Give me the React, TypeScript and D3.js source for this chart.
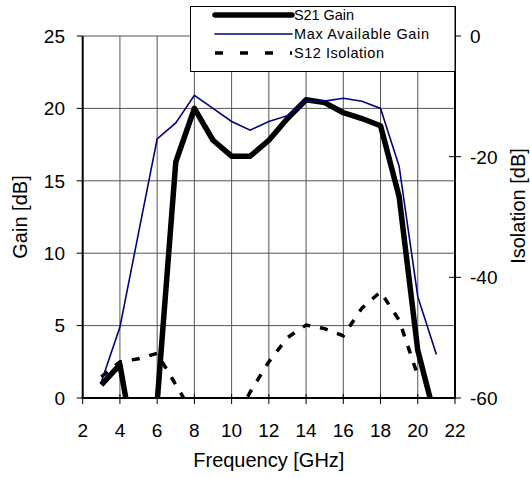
import React, { useRef, useEffect } from 'react';
import * as d3 from 'd3';

// Frequency points [GHz]
const freqs = [3, 4, 5, 6, 7, 8, 9, 10, 11, 12, 13, 14, 15, 16, 17, 18, 19, 20, 21];
// S21 gain [dB]
const s21Gain = [0.9, 2.3, -5, -0.3, 16.3, 20.0, 17.8, 16.7, 16.7, 17.8, 19.3, 20.6, 20.4, 19.7, 19.3, 18.8, 13.9, 3.3, -1.7];
// Max available gain [dB]
const maxGain = [1.1, 4.9, 11.4, 17.9, 19.0, 20.9, 20.0, 19.1, 18.5, 19.1, 19.5, 20.5, 20.5, 20.7, 20.5, 20.0, 16.0, 7.0, 3.0];
// S12 isolation [dB], 3..20 GHz
const isoFreqs = [3, 4, 5, 6, 7, 8, 9, 10, 11, 12, 13, 14, 15, 16, 17, 18, 19, 20];
const s12Iso = [-56.5, -54.0, -53.5, -52.6, -57.8, -63, -66, -65, -59, -54, -50, -47.9, -48.5, -49.7, -45.1, -42.4, -47.1, -56.3];

const xTicks = [2, 4, 6, 8, 10, 12, 14, 16, 18, 20, 22];
const yTicks = [0, 5, 10, 15, 20, 25];
const y2Ticks = [0, -20, -40, -60];

const width = 530;
const height = 478;

const App = () => {
  const svgRef = useRef<SVGSVGElement>(null);

  useEffect(() => {
    const svg = d3.select(svgRef.current);
    svg.selectAll('*').remove();

    const left = 82.7, right = 455, top = 36, bottom = 398;
    const font = 'Liberation Sans, Arial, sans-serif';

    const x = d3.scaleLinear().domain([2, 22]).range([left, right]);
    const y = d3.scaleLinear().domain([0, 25]).range([bottom, top]);
    const y2 = d3.scaleLinear().domain([-60, 0]).range([bottom, top]);

    svg.append('defs').append('clipPath').attr('id', 'plot-clip')
      .append('rect')
      .attr('x', left).attr('y', top)
      .attr('width', right - left).attr('height', bottom - top);

    // gridlines
    const grid = svg.append('g').attr('stroke', '#555').attr('stroke-width', 1);
    xTicks.slice(1, -1).forEach(t => {
      grid.append('line').attr('x1', x(t)).attr('x2', x(t)).attr('y1', top).attr('y2', bottom);
    });
    yTicks.slice(1).forEach(t => {
      grid.append('line').attr('x1', left).attr('x2', right).attr('y1', y(t)).attr('y2', y(t));
    });

    // lines
    const plot = svg.append('g').attr('clip-path', 'url(#plot-clip)');
    const gainLine = d3.line<number>().x((d, i) => x(freqs[i])).y(d => y(d));
    const isoLine = d3.line<number>().x((d, i) => x(isoFreqs[i])).y(d => y2(d));

    plot.append('path').attr('d', gainLine(s21Gain))
      .attr('fill', 'none').attr('stroke', '#000').attr('stroke-width', 5.5)
      .attr('stroke-linejoin', 'round');
    plot.append('path').attr('d', gainLine(maxGain))
      .attr('fill', 'none').attr('stroke', '#000080').attr('stroke-width', 1.6);
    plot.append('path').attr('d', isoLine(s12Iso))
      .attr('fill', 'none').attr('stroke', '#000').attr('stroke-width', 3.5)
      .attr('stroke-dasharray', '8,10');

    // axes lines
    const axes = svg.append('g').attr('stroke', '#000');
    axes.append('line').attr('x1', left).attr('x2', left).attr('y1', top).attr('y2', bottom + 1).attr('stroke-width', 2);
    axes.append('line').attr('x1', right).attr('x2', right).attr('y1', top - 30).attr('y2', bottom + 1).attr('stroke-width', 2);
    axes.append('line').attr('x1', left - 1).attr('x2', right + 1).attr('y1', bottom).attr('y2', bottom).attr('stroke-width', 2);

    // ticks
    yTicks.forEach(t => {
      axes.append('line').attr('x1', left - 6).attr('x2', left).attr('y1', y(t)).attr('y2', y(t)).attr('stroke-width', 1);
    });
    xTicks.forEach(t => {
      axes.append('line').attr('x1', x(t)).attr('x2', x(t)).attr('y1', bottom - 4).attr('y2', bottom + 6).attr('stroke-width', 1);
    });
    y2Ticks.forEach(t => {
      axes.append('line').attr('x1', right - 6).attr('x2', right + 6).attr('y1', y2(t)).attr('y2', y2(t)).attr('stroke-width', 1);
    });

    // tick labels
    const labels = svg.append('g').attr('font-family', font).attr('font-size', 19).attr('fill', '#000');
    yTicks.forEach(t => {
      labels.append('text').attr('x', 65).attr('y', y(t)).attr('dy', '0.36em')
        .attr('text-anchor', 'end').text(t);
    });
    xTicks.forEach(t => {
      labels.append('text').attr('x', x(t)).attr('y', 437)
        .attr('text-anchor', 'middle').text(t);
    });
    y2Ticks.forEach(t => {
      labels.append('text').attr('x', 470).attr('y', y2(t)).attr('dy', '0.36em')
        .attr('text-anchor', 'start').text(t);
    });

    // axis titles
    labels.append('text').attr('x', (left + right) / 2).attr('y', 467)
      .attr('font-size', 20).attr('text-anchor', 'middle').text('Frequency [GHz]');
    labels.append('text').attr('transform', `translate(27, ${(top + bottom) / 2}) rotate(-90)`)
      .attr('font-size', 20).attr('text-anchor', 'middle').text('Gain [dB]');
    labels.append('text').attr('transform', `translate(525, 206) rotate(-90)`)
      .attr('font-size', 20).attr('text-anchor', 'middle').text('Isolation [dB]');

    // legend
    const legend = svg.append('g');
    legend.append('rect').attr('x', 190.5).attr('y', 6.5).attr('width', right - 190.5).attr('height', 65)
      .attr('fill', '#fff').attr('stroke', '#000').attr('stroke-width', 1);
    const items = [
      { name: 'S21 Gain', color: '#000', w: 5.5, dash: null, len: 60 },
      { name: 'Max Available Gain', color: '#000080', w: 1.6, dash: null, len: 135 },
      { name: 'S12 Isolation', color: '#000', w: 3.5, dash: '8,17', len: 90 },
    ];
    items.forEach((it, i) => {
      const ly = 15 + i * 19;
      legend.append('line').attr('x1', 215).attr('x2', 292).attr('y1', ly).attr('y2', ly)
        .attr('stroke', it.color).attr('stroke-width', it.w)
        .attr('stroke-linecap', it.dash ? 'butt' : 'round')
        .attr('stroke-dasharray', it.dash);
      legend.append('text').attr('x', 294).attr('y', ly).attr('dy', '0.36em')
        .attr('font-family', font).attr('font-size', 14.5)
        .attr('textLength', it.len).attr('lengthAdjust', 'spacing')
        .text(it.name);
    });
  }, []);

  return (
    <svg ref={svgRef} width={width} height={height}
      style={{ position: 'absolute', left: 0, top: 0, background: '#fff' }} />
  );
};

export default App;
